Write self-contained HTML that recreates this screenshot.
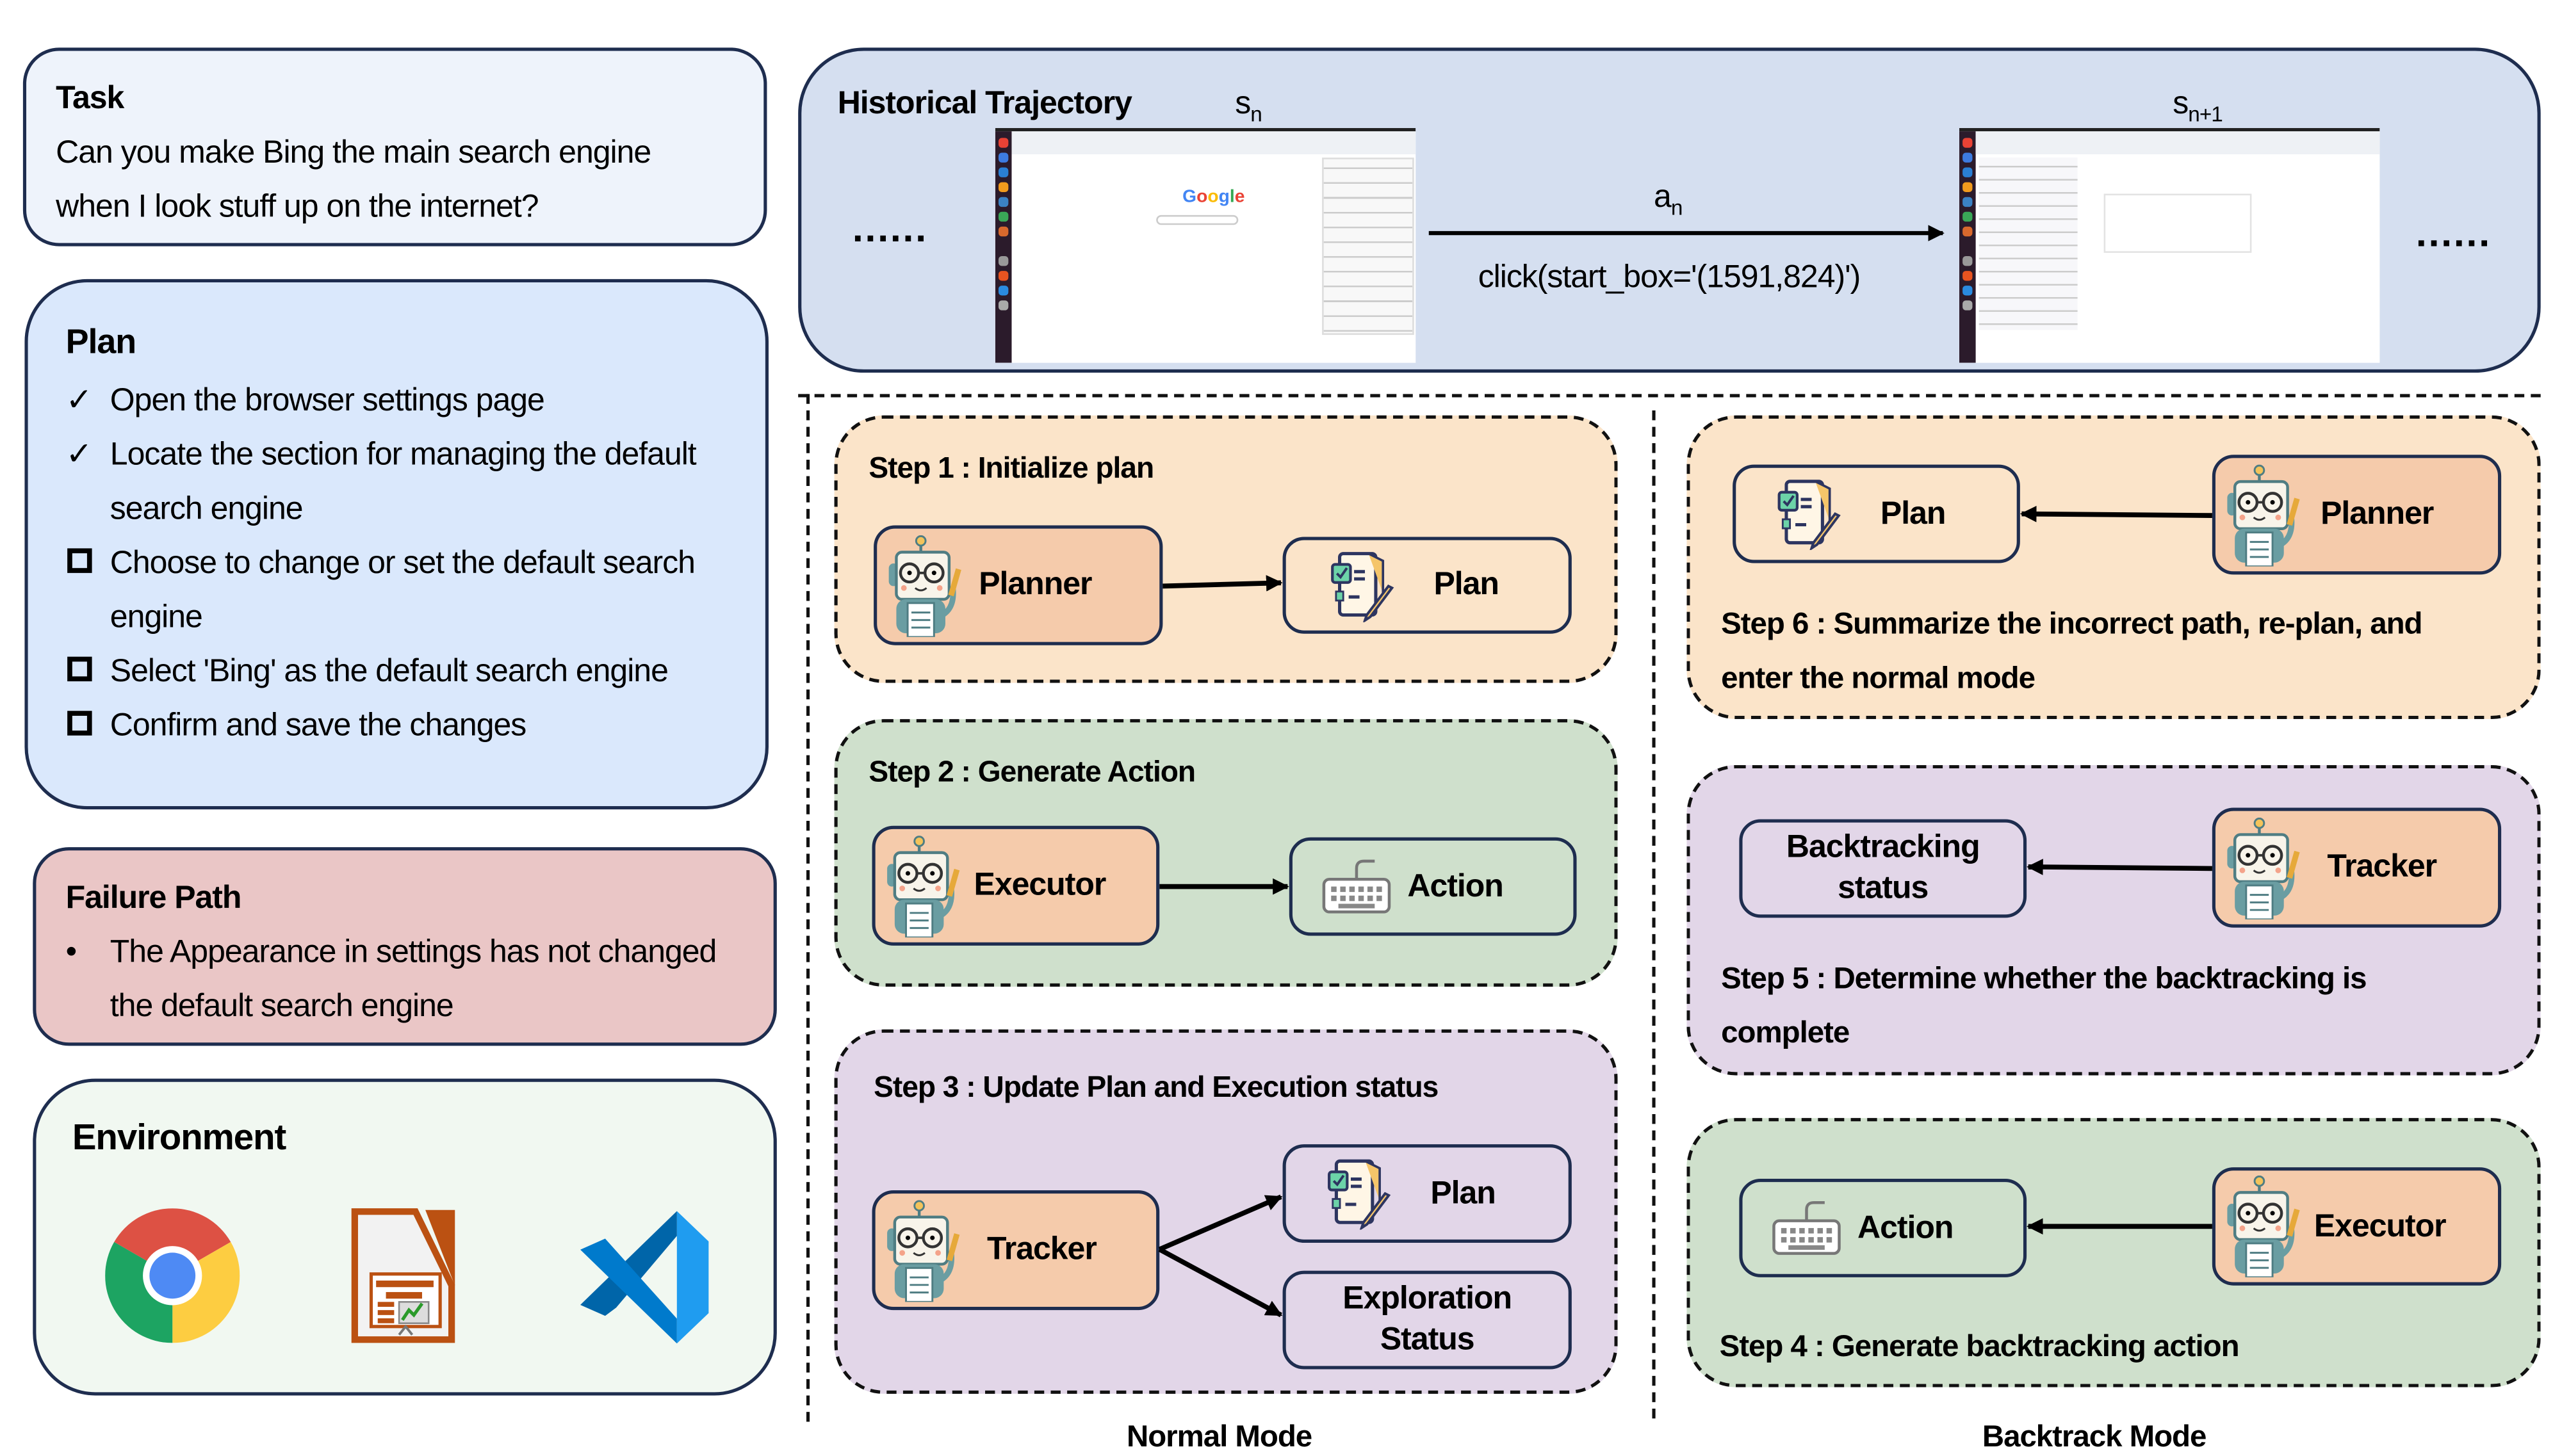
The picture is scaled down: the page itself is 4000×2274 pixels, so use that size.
<!DOCTYPE html>
<html><head><meta charset="utf-8"><style>
*{margin:0;padding:0;box-sizing:border-box}
html,body{width:4000px;height:2269px;background:#fff;overflow:hidden}
#w{position:absolute;left:0;top:0;width:1560px;height:885px;transform:scale(2.5641);transform-origin:0 0;font-family:"Liberation Sans",sans-serif;color:#000}
.a{position:absolute}
.box{position:absolute;border:2px solid #1e2d4f}
.dash{position:absolute;border:2px dashed #111}
.t{position:absolute;white-space:nowrap;font-size:19.5px;letter-spacing:-0.4px;line-height:24px}
.b{font-weight:bold}
.node{position:absolute;border:2.5px solid #1e2d4f;border-radius:13px;display:flex;align-items:center;font-weight:bold;font-size:19.5px;letter-spacing:-0.4px;white-space:nowrap}
.or{background:#f5cbab}
.dk{position:absolute;left:2px;width:6px;height:6px;border-radius:2px}
</style></head><body><div id="w">
<svg width="0" height="0" style="position:absolute">
<defs>
<g id="robot">
<line x1="18" y1="2" x2="18" y2="9" stroke="#4f7d83" stroke-width="1.5"/>
<circle cx="18" cy="3" r="2.5" fill="#f3c35a" stroke="#4f7d83"/>
<rect x="1" y="15" width="5" height="12" rx="2.5" fill="#6a9da2"/>
<rect x="5" y="9" width="28" height="25" rx="3" fill="#f8f4ea" stroke="#4f7d83" stroke-width="1.5"/>
<circle cx="12" cy="20" r="4.8" fill="none" stroke="#333" stroke-width="1.5"/>
<circle cx="25" cy="20" r="4.8" fill="none" stroke="#333" stroke-width="1.5"/>
<line x1="16.8" y1="20" x2="20.2" y2="20" stroke="#333" stroke-width="1.3"/>
<circle cx="12" cy="20" r="1.2"/><circle cx="25" cy="20" r="1.2"/>
<circle cx="9" cy="28" r="1.5" fill="#f4a38a"/><circle cx="28" cy="28" r="1.5" fill="#f4a38a"/>
<path d="M15 28 q3 2.5 6 0" stroke="#333" fill="none"/>
<rect x="5" y="34" width="26" height="18" rx="5" fill="#6a9da2"/>
<rect x="11" y="36" width="14" height="18" fill="#fff" stroke="#4f7d83"/>
<line x1="13" y1="41" x2="23" y2="41" stroke="#4f7d83"/><line x1="13" y1="45" x2="23" y2="45" stroke="#4f7d83"/><line x1="13" y1="49" x2="23" y2="49" stroke="#4f7d83"/>
<path d="M30 42 q6 -4 5 -14" stroke="#6a9da2" stroke-width="3" fill="none"/>
<path d="M34 32 l4 -14" stroke="#e6a93a" stroke-width="3"/>
</g>
<g id="plan">
<rect x="6" y="2" width="20" height="34" rx="2" fill="#fff6e6" stroke="#2d3560" stroke-width="1.8"/>
<path d="M22 2 l8 4 v18" fill="#f5c56a" stroke="#2d3560" stroke-width="1.3"/>
<rect x="2" y="8" width="10" height="10" rx="1.5" fill="#6cd3a8" stroke="#2d3560" stroke-width="1.5"/>
<path d="M4.5 13 l2 2 l3.5 -5" stroke="#2d3560" fill="none" stroke-width="1.4"/>
<rect x="4" y="23" width="4" height="5" fill="#6cd3a8" stroke="#2d3560"/>
<line x1="14" y1="12" x2="20" y2="12" stroke="#2d3560" stroke-width="1.8"/><line x1="14" y1="16" x2="20" y2="16" stroke="#2d3560" stroke-width="1.8"/><line x1="11" y1="26" x2="17" y2="26" stroke="#2d3560" stroke-width="1.8"/>
<path d="M33 20 l-12 16 l-1 3 l3 -2 l12 -16z" fill="#f5c56a" stroke="#2d3560" stroke-width="1.4"/>
</g>
<g id="kb">
<rect x="1" y="14" width="36" height="18" rx="3" fill="#fff" stroke="#777" stroke-width="1.6"/>
<path d="M19 14 v-6 q0-4 4-4 h6" stroke="#777" fill="none" stroke-width="1.6"/>
<g fill="#888"><rect x="5" y="18" width="3" height="3"/><rect x="10" y="18" width="3" height="3"/><rect x="15" y="18" width="3" height="3"/><rect x="20" y="18" width="3" height="3"/><rect x="25" y="18" width="3" height="3"/><rect x="30" y="18" width="3" height="3"/><rect x="5" y="23" width="3" height="3"/><rect x="10" y="23" width="3" height="3"/><rect x="15" y="23" width="3" height="3"/><rect x="20" y="23" width="3" height="3"/><rect x="25" y="23" width="3" height="3"/><rect x="30" y="23" width="3" height="3"/><rect x="9" y="27.5" width="20" height="2.5"/></g>
</g>
<marker id="ah" markerWidth="10" markerHeight="10" refX="9" refY="5" orient="auto" markerUnits="userSpaceOnUse"><path d="M0 0 L10 5 L0 10z" fill="#000"/></marker>
</defs></svg>

<!-- Task -->
<div class="box" style="left:14px;top:29px;width:453px;height:121px;border-radius:22px;background:#eef3fb"></div>
<div class="t b" style="left:34px;top:48px">Task</div>
<div class="t" style="left:34px;top:81px">Can you make Bing the main search engine</div>
<div class="t" style="left:34px;top:114px">when I look stuff up on the internet?</div>

<!-- Plan -->
<div class="box" style="left:15px;top:170px;width:453px;height:323px;border-radius:38px;background:#dae8fc"></div>
<div class="t b" style="left:40px;top:197px;font-size:21px">Plan</div>
<div class="t" style="left:40px;top:232px">✓</div><div class="t" style="left:67px;top:232px">Open the browser settings page</div>
<div class="t" style="left:40px;top:265px">✓</div><div class="t" style="left:67px;top:265px">Locate the section for managing the default</div>
<div class="t" style="left:67px;top:298px">search engine</div>
<div class="a" style="left:41px;top:334px;width:15px;height:15px;border:3px solid #000"></div><div class="t" style="left:67px;top:331px">Choose to change or set the default search</div>
<div class="t" style="left:67px;top:364px">engine</div>
<div class="a" style="left:41px;top:400px;width:15px;height:15px;border:3px solid #000"></div><div class="t" style="left:67px;top:397px">Select 'Bing' as the default search engine</div>
<div class="a" style="left:41px;top:433px;width:15px;height:15px;border:3px solid #000"></div><div class="t" style="left:67px;top:430px">Confirm and save the changes</div>

<!-- Failure -->
<div class="box" style="left:20px;top:516px;width:453px;height:121px;border-radius:22px;background:#eac6c6"></div>
<div class="t b" style="left:40px;top:535px">Failure Path</div>
<div class="t" style="left:40px;top:568px">•</div><div class="t" style="left:67px;top:568px">The Appearance in settings has not changed</div>
<div class="t" style="left:67px;top:601px">the default search engine</div>

<!-- Environment -->
<div class="box" style="left:20px;top:657px;width:453px;height:193px;border-radius:38px;background:#f1f8f1"></div>
<div class="t b" style="left:44px;top:681px;font-size:22px">Environment</div>
<svg class="a" style="left:64px;top:736px" width="82" height="82" viewBox="-41 -41 82 82">
<path d="M0 0 L-35.5 -20.5 A41 41 0 0 1 35.5 -20.5 Z" fill="#dd5144"/>
<path d="M0 0 L35.5 -20.5 A41 41 0 0 1 0 41 Z" fill="#fdcd41"/>
<path d="M0 0 L0 41 A41 41 0 0 1 -35.5 -20.5 Z" fill="#1da462"/>
<circle r="18" fill="#fff"/><circle r="14" fill="#4e8af4"/></svg>
<svg class="a" style="left:213px;top:735px" width="68" height="84" viewBox="0 0 68 84">
<path d="M3 3 H40 L62 48 V81 H3 Z" fill="#f2f2f2" stroke="#bb5112" stroke-width="4"/>
<path d="M46 2 H64 V48 Z" fill="#bb5112"/>
<rect x="13" y="41" width="42" height="32" fill="#fff" stroke="#bb5112" stroke-width="2"/>
<rect x="16" y="45" width="35" height="4" fill="#bb5112"/><rect x="22" y="52" width="22" height="4" fill="#bb5112"/>
<rect x="17" y="58" width="10" height="3" fill="#bb5112"/><rect x="17" y="63" width="10" height="3" fill="#bb5112"/><rect x="17" y="68" width="10" height="3" fill="#bb5112"/>
<rect x="30" y="58" width="18" height="13" fill="#ddd" stroke="#888"/><path d="M32 69 l4-6 l3 3 l5-7" stroke="#2a9a2a" stroke-width="2" fill="none"/>
<path d="M30 78 l4-5 l4 5" stroke="#777" fill="none" stroke-width="1.5"/></svg>
<svg class="a" style="left:350px;top:736px" width="84" height="84" viewBox="0 0 100 100">
<path d="M74 2 L97 24 V76 L74 98 Z" fill="#1f9cf0"/>
<path d="M74 2 L74 20 L30 72 L22 78 L4 70 Z" fill="#0065a9"/>
<path d="M4 30 L22 22 L74 80 L74 98 Z" fill="#007acc"/></svg>

<!-- Historical -->
<div class="box" style="left:486px;top:29px;width:1061px;height:198px;border-radius:40px;background:#d5dff0"></div>
<div class="t b" style="left:510px;top:51px">Historical Trajectory</div>
<div class="t" style="left:752px;top:51px">s<sub style="font-size:13px">n</sub></div>
<div class="t" style="left:1323px;top:51px">s<sub style="font-size:13px">n+1</sub></div>
<div class="t b" style="left:519px;top:128px;font-size:24px;letter-spacing:1px">......</div>
<div class="t b" style="left:1471px;top:131px;font-size:24px;letter-spacing:1px">......</div>
<div class="a" style="left:606px;top:78px;width:256px;height:143px;background:#fff;overflow:hidden">
 <div class="a" style="left:0;top:0;width:256px;height:2px;background:#222"></div>
 <div class="a" style="left:0;top:2px;width:10px;height:141px;background:#2b1b2b">
  <div class="dk" style="top:4px;background:#e94235"></div><div class="dk" style="top:13px;background:#3d7be0"></div><div class="dk" style="top:22px;background:#2a7fd4"></div><div class="dk" style="top:31px;background:#f29b1d"></div><div class="dk" style="top:40px;background:#3b82c4"></div><div class="dk" style="top:49px;background:#3aa757"></div><div class="dk" style="top:58px;background:#d8692d"></div><div class="dk" style="top:76px;background:#999"></div><div class="dk" style="top:85px;background:#e95420"></div><div class="dk" style="top:94px;background:#2a8be0"></div><div class="dk" style="top:103px;background:#aaa"></div>
 </div>
 <div class="a" style="left:10px;top:2px;width:246px;height:14px;background:#eef1f5"></div>
 <div class="a" style="left:114px;top:36px;font-size:11px;color:#4285f4;font-weight:bold">G<span style="color:#ea4335">o</span><span style="color:#fbbc05">o</span>g<span style="color:#34a853">l</span><span style="color:#ea4335">e</span></div>
 <div class="a" style="left:98px;top:53px;width:50px;height:6px;border:1px solid #ccc;border-radius:3px"></div>
 <div class="a" style="left:199px;top:18px;width:56px;height:108px;background:#f8f8f8;border:1px solid #ddd;background-image:repeating-linear-gradient(#f8f8f8 0 5px,#ccc 5px 6px,#f8f8f8 6px 9px)"></div>
</div>
<div class="a" style="left:1193px;top:78px;width:256px;height:143px;background:#fff;overflow:hidden">
 <div class="a" style="left:0;top:0;width:256px;height:2px;background:#222"></div>
 <div class="a" style="left:0;top:2px;width:10px;height:141px;background:#2b1b2b">
  <div class="dk" style="top:4px;background:#e94235"></div><div class="dk" style="top:13px;background:#3d7be0"></div><div class="dk" style="top:22px;background:#2a7fd4"></div><div class="dk" style="top:31px;background:#f29b1d"></div><div class="dk" style="top:40px;background:#3b82c4"></div><div class="dk" style="top:49px;background:#3aa757"></div><div class="dk" style="top:58px;background:#d8692d"></div><div class="dk" style="top:76px;background:#999"></div><div class="dk" style="top:85px;background:#e95420"></div><div class="dk" style="top:94px;background:#2a8be0"></div><div class="dk" style="top:103px;background:#aaa"></div>
 </div>
 <div class="a" style="left:10px;top:2px;width:246px;height:14px;background:#eef1f5"></div>
 <div class="a" style="left:12px;top:18px;width:60px;height:105px;background:#f7f7fa;background-image:repeating-linear-gradient(#f7f7fa 0 5px,#ccc 5px 6px,#f7f7fa 6px 8px)"></div>
 <div class="a" style="left:88px;top:40px;width:90px;height:36px;border:1px solid #e3e3e3"></div>
</div>
<svg class="a" style="left:0;top:0" width="1560" height="885">
<line x1="870" y1="142" x2="1183" y2="142" stroke="#000" stroke-width="2.5" marker-end="url(#ah)"/>
</svg>
<div class="t" style="left:1007px;top:108px">a<sub style="font-size:13px">n</sub></div>
<div class="t" style="left:900px;top:157px">click(start_box='(1591,824)')</div>

<!-- dividers -->
<div class="a" style="left:486px;top:240px;width:1061px;border-top:2px dashed #111"></div>
<div class="a" style="left:491px;top:240px;height:626px;border-left:2px dashed #111"></div>
<div class="a" style="left:1006px;top:250px;height:614px;border-left:2px dashed #111"></div>

<!-- Step 1 -->
<div class="dash" style="left:508px;top:253px;width:477px;height:163px;border-radius:30px;background:#fbe4c9"></div>
<div class="t b" style="left:529px;top:273px;font-size:18px">Step 1 : Initialize plan</div>
<div class="node or" style="left:532px;top:320px;width:176px;height:73px"><svg width="46" height="62" viewBox="0 0 40 54" style="margin:0 10px 0 6px"><use href="#robot"/></svg>Planner</div>
<div class="node" style="left:781px;top:327px;width:176px;height:59px"><svg width="42" height="44" viewBox="0 0 38 40" style="margin:0 22px 0 26px"><use href="#plan"/></svg>Plan</div>

<!-- Step 2 -->
<div class="dash" style="left:508px;top:438px;width:477px;height:163px;border-radius:30px;background:#cfe0cc"></div>
<div class="t b" style="left:529px;top:458px;font-size:18px">Step 2 : Generate Action</div>
<div class="node or" style="left:531px;top:503px;width:175px;height:73px"><svg width="46" height="62" viewBox="0 0 40 54" style="margin:0 8px 0 6px"><use href="#robot"/></svg>Executor</div>
<div class="node" style="left:785px;top:510px;width:175px;height:60px"><svg width="42" height="40" viewBox="0 0 38 36" style="margin:0 10px 0 18px"><use href="#kb"/></svg>Action</div>

<!-- Step 3 -->
<div class="dash" style="left:508px;top:627px;width:477px;height:222px;border-radius:30px;background:#e2d6e8"></div>
<div class="t b" style="left:532px;top:650px;font-size:18px">Step 3 : Update Plan and Execution status</div>
<div class="node or" style="left:531px;top:725px;width:175px;height:73px"><svg width="46" height="62" viewBox="0 0 40 54" style="margin:0 16px 0 6px"><use href="#robot"/></svg>Tracker</div>
<div class="node" style="left:781px;top:697px;width:176px;height:60px"><svg width="42" height="44" viewBox="0 0 38 40" style="margin:0 22px 0 24px"><use href="#plan"/></svg>Plan</div>
<div class="node" style="left:781px;top:774px;width:176px;height:60px;justify-content:center;text-align:center;line-height:25px;white-space:normal">Exploration<br>Status</div>

<!-- Step 6 -->
<div class="dash" style="left:1027px;top:253px;width:520px;height:185px;border-radius:30px;background:#fbe4c9"></div>
<div class="node" style="left:1055px;top:283px;width:175px;height:60px"><svg width="42" height="44" viewBox="0 0 38 40" style="margin:0 22px 0 24px"><use href="#plan"/></svg>Plan</div>
<div class="node or" style="left:1347px;top:277px;width:176px;height:73px"><svg width="46" height="62" viewBox="0 0 40 54" style="margin:0 12px 0 6px"><use href="#robot"/></svg>Planner</div>
<div class="t b" style="left:1048px;top:368px;font-size:18.5px">Step 6 : Summarize the incorrect path, re-plan, and</div>
<div class="t b" style="left:1048px;top:401px;font-size:18.5px">enter the normal mode</div>

<!-- Step 5 -->
<div class="dash" style="left:1027px;top:466px;width:520px;height:189px;border-radius:30px;background:#e2d6e8"></div>
<div class="node" style="left:1059px;top:499px;width:175px;height:60px;justify-content:center;text-align:center;line-height:25px;white-space:normal">Backtracking<br>status</div>
<div class="node or" style="left:1347px;top:492px;width:176px;height:73px"><svg width="46" height="62" viewBox="0 0 40 54" style="margin:0 16px 0 6px"><use href="#robot"/></svg>Tracker</div>
<div class="t b" style="left:1048px;top:584px;font-size:18.5px">Step 5 : Determine whether the backtracking is</div>
<div class="t b" style="left:1048px;top:617px;font-size:18.5px">complete</div>

<!-- Step 4 -->
<div class="dash" style="left:1027px;top:681px;width:520px;height:164px;border-radius:30px;background:#cfe0cc"></div>
<div class="node" style="left:1059px;top:718px;width:175px;height:60px"><svg width="42" height="40" viewBox="0 0 38 36" style="margin:0 10px 0 18px"><use href="#kb"/></svg>Action</div>
<div class="node or" style="left:1347px;top:711px;width:176px;height:72px"><svg width="46" height="62" viewBox="0 0 40 54" style="margin:0 8px 0 6px"><use href="#robot"/></svg>Executor</div>
<div class="t b" style="left:1047px;top:808px;font-size:18.5px">Step 4 : Generate backtracking action</div>

<!-- arrows -->
<svg class="a" style="left:0;top:0" width="1560" height="885">
<g stroke="#000" stroke-width="3" marker-end="url(#ah)">
<line x1="708" y1="357" x2="780" y2="355"/>
<line x1="706" y1="540" x2="784" y2="540"/>
<line x1="706" y1="761" x2="780" y2="729"/>
<line x1="706" y1="761" x2="780" y2="801"/>
<line x1="1347" y1="314" x2="1231" y2="313"/>
<line x1="1347" y1="529" x2="1235" y2="528"/>
<line x1="1347" y1="747" x2="1235" y2="747"/>
</g></svg>

<div class="t b" style="left:686px;top:863px;font-size:18.5px">Normal Mode</div>
<div class="t b" style="left:1207px;top:863px;font-size:18.5px">Backtrack Mode</div>
</div></body></html>
